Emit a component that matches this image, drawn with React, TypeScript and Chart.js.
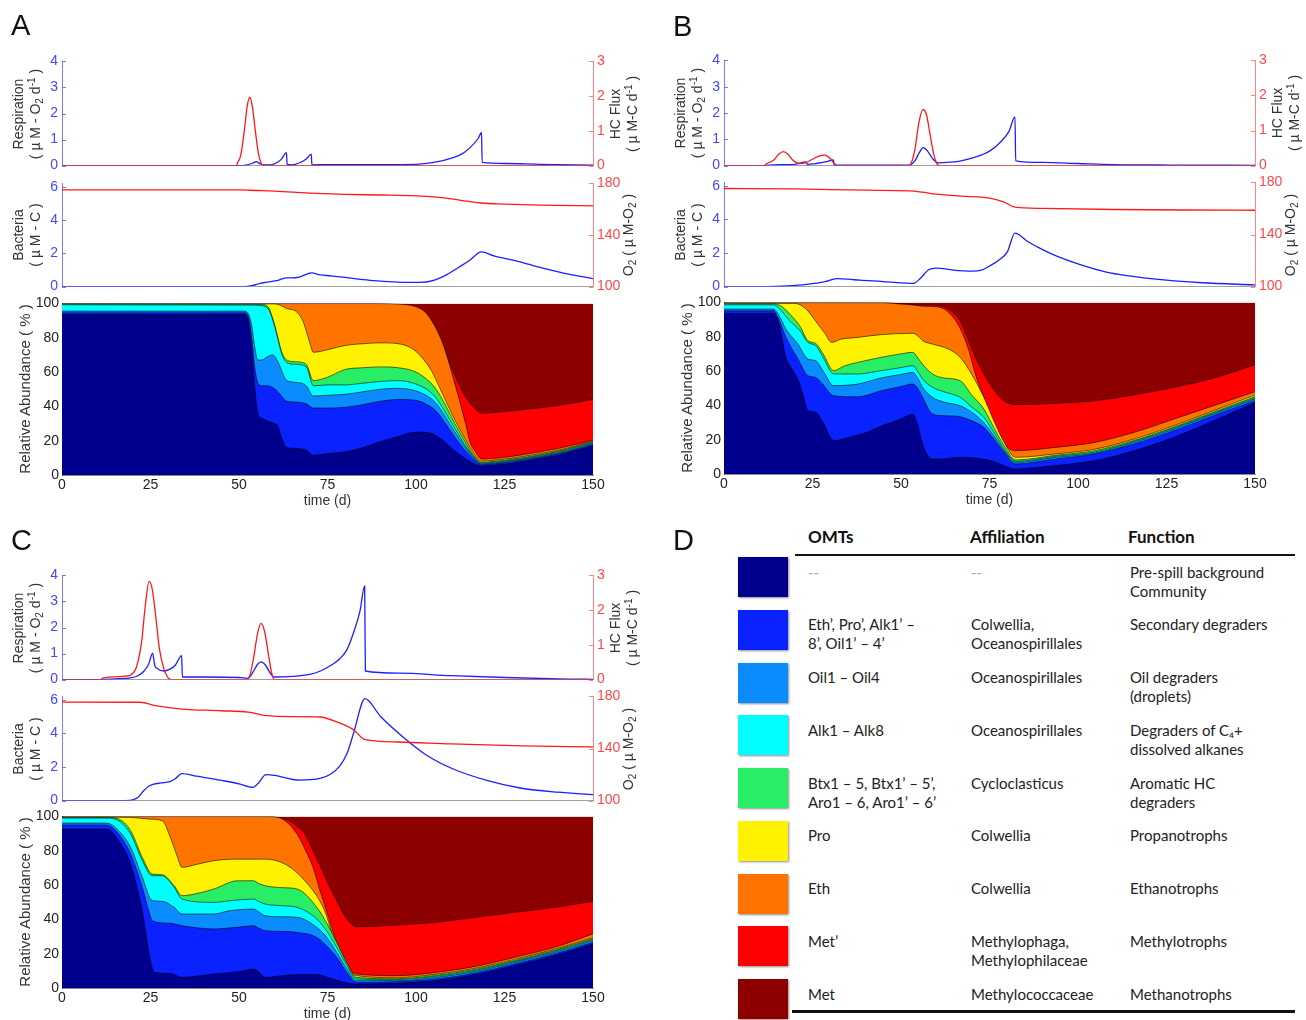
import React, { useEffect, useRef } from "react";
import { Chart, registerables } from "chart.js";
Chart.register(...registerables);

type Pts = [number, number][];

// ---------------- Panel A ----------------
const A_hcFlux: Pts = [[0,0],[49.3,0],[49.6,0.08],[50.5,0.3],[51.5,1.0],[52.3,1.7],[53,1.96],[53.7,1.75],[54.5,1.1],[55.4,0.4],[56.2,0.08],[57,0],[150,0]];
const A_resp: Pts = [[0,0],[50,0],[52,0.02],[54,0.1],[54.8,0.15],[56,0.07],[57,0.03],[59,0.03],[60.5,0.1],[62,0.25],[63.4,0.5],[63.6,0.05],[65,0.03],[67,0.1],[69,0.25],[70.4,0.44],[70.6,0.03],[75,0.04],[90,0.04],[100,0.05],[105,0.12],[110.5,0.31],[113,0.45],[115.2,0.68],[117.6,1.05],[118.5,1.27],[118.7,0.12],[125,0.08],[135,0.05],[150,0.02]];
const A_bacteria: Pts = [[0,0],[51.5,0],[54,0.08],[56,0.2],[58,0.27],[61,0.38],[63.5,0.53],[65,0.52],[67,0.57],[70.5,0.82],[73,0.7],[76,0.65],[80,0.55],[87,0.38],[95,0.27],[101,0.25],[105,0.38],[108.7,0.72],[112,1.15],[115,1.55],[118.5,2.09],[122,1.85],[129.4,1.49],[135,1.15],[142,0.8],[150,0.48]];
const A_o2: Pts = [[0,175],[50,175],[55,174.5],[60,174],[70,172.5],[80,171.5],[90,171],[100,170.3],[105,169.5],[110,168],[115,166],[118.5,164.8],[125,164],[135,163.2],[150,162.6]];
const A_layers: Pts[] = [
  [[0,93.5],[51.5,93.5],[52.5,91],[53.5,75],[54.5,50],[55.5,35],[56.5,33],[58,31.5],[60,30],[61,28.5],[62,22],[63.5,16],[66,15.5],[69,14.5],[71,11.5],[75,12.5],[80,13.5],[85,16],[90,19.5],[95,22.5],[100,25],[104,24.5],[106,22.5],[108,19.5],[111,14],[114,9.5],[116,7],[118.5,5.2],[120,5.4],[125,6.3],[130,7.8],[140,11.5],[150,17]],
  [[0,94.5],[51.5,94.5],[52.5,93],[53.5,82],[54.5,62],[55.5,53],[56.5,52],[58,52],[59.5,51],[61,48.5],[62,46],[63.5,43],[66,42.5],[69,41.5],[71,39],[75,39],[80,39.5],[85,41],[90,43],[95,44],[100,43.5],[104,40],[106,36.5],[108,31],[111,22],[114,14],[116,9.8],[118.5,6],[120,6.2],[125,7.1],[130,8.6],[140,12.2],[150,17.8]],
  [[0,95.5],[51.5,95.5],[52.5,94.5],[53.5,88],[54.5,74],[55.3,67],[56.5,67],[58,69],[59.5,70],[61,66],[62,61],[63.5,55],[66,54],[69,52],[71,46],[75,46.5],[80,47],[85,48.5],[90,50],[95,50.5],[100,49],[104,45],[106,41],[108,35],[111,25],[114,16],[116,11],[118.5,6.5],[120,6.7],[125,7.7],[130,9.2],[140,12.8],[150,18.4]],
  [[0,99.2],[52,99],[57,98.5],[58.5,96],[60,87],[61,79],[62,71],[63.5,65.5],[66,64.5],[69,63],[71,52],[75,52.5],[80,52.5],[85,53.5],[90,54.5],[95,55],[100,53],[104,48.5],[106,44],[108,37.5],[111,27],[114,17],[116,11.5],[118.5,6.9],[120,7.1],[125,8.1],[130,9.6],[140,13.3],[150,18.9]],
  [[0,99.6],[52,99.5],[57,99.3],[58.5,97],[60,88],[61,80],[62,72],[63.5,67],[66,66],[69,64.5],[71,55],[75,57],[80,61.5],[85,62.5],[90,63],[95,62.5],[100,60],[104,54],[106,49],[108,42],[111,30],[114,19],[116,12.3],[118.5,7.3],[120,7.5],[125,8.6],[130,10.1],[140,13.8],[150,19.3]],
  [[0,99.8],[60,99.7],[61,99.4],[62,98.6],[63.5,97],[66,95.5],[68,90],[69,84],[70,77],[71,71.5],[75,73],[80,75.5],[85,76.5],[90,77],[95,76.5],[100,72],[104,62],[106,54],[108,45],[111,32],[114,20.5],[116,13.5],[118.5,8],[120,8.2],[125,9.2],[130,10.7],[140,14.3],[150,19.7]],
  [[0,99.9],[90,99.9],[95,99.6],[100,98],[103,94],[106,84],[108,74],[111,53],[114,30],[115.3,19],[117,13],[118.5,9.3],[120,9.4],[125,10.3],[130,11.8],[140,15.4],[150,20.3]],
  [[0,100],[88,99.9],[95,99],[100,96.5],[103,92],[106,82],[108,73],[111,58],[113.5,47],[115.3,41.8],[117,38],[118.6,36],[120,36.2],[125,37],[130,38],[140,40.5],[150,44]],
  [[0,100],[150,100]],
];

// ---------------- Panel B ----------------
const B_hcFlux: Pts = [[0,0],[11.5,0],[12,0.05],[14,0.15],[15.5,0.33],[16.8,0.4],[18,0.33],[19.5,0.15],[21.3,0.06],[23,0.08],[25,0.18],[27,0.28],[28.5,0.3],[30,0.2],[31,0.08],[32,0],[52.3,0],[53,0.1],[54,0.5],[55,1.2],[56.2,1.6],[57.2,1.45],[58.2,0.9],[59.3,0.3],[60.3,0.03],[61,0],[150,0]];
const B_resp: Pts = [[0,0],[11.5,0],[14,0.03],[20,0.05],[23.2,0.14],[23.5,0.05],[26,0.08],[29,0.15],[30.9,0.22],[31.1,0.02],[52.3,0.02],[54,0.2],[55.2,0.5],[56.3,0.68],[57.5,0.55],[59,0.25],[60.5,0.1],[64,0.13],[67,0.18],[70,0.28],[73,0.42],[75,0.55],[78,0.88],[80.5,1.3],[82.2,1.85],[82.4,0.18],[90,0.12],[100,0.08],[110,0.04],[126,0.02],[150,0.01]];
const B_bacteria: Pts = [[0,0],[12,0],[18,0.04],[23.4,0.13],[28.5,0.29],[31.8,0.47],[35,0.44],[38.4,0.38],[45,0.3],[50,0.22],[53.5,0.19],[55.5,0.5],[57.8,1.0],[60,1.1],[64.8,0.98],[70,0.92],[73,1.0],[75.1,1.24],[77.5,1.55],[80,2.05],[82.2,3.18],[86,2.65],[90,2.2],[94,1.81],[100,1.35],[108,0.86],[115,0.62],[122,0.44],[135,0.23],[150,0.1]];
const B_o2: Pts = [[0,175.3],[20,175],[40,174],[52.5,173.5],[56,172.5],[60,171],[67,169.5],[75,168],[79,165],[82.2,161],[90,160],[110,159.2],[130,158.8],[150,158.6]];
const B_layers: Pts[] = [
  [[0,93.6],[14,93.6],[15.5,88],[17.5,68],[19,62],[20.9,55],[22.5,45],[23.7,37],[25.9,36],[28,30],[31,19.4],[35.4,21.4],[40,24],[44.4,28],[50,32],[53.3,35],[54.5,30],[56.1,17.5],[57.5,11],[58.9,8.7],[62,8.8],[66.7,9.7],[70,9.5],[73.4,8.7],[76,7.5],[79,5],[82.4,2.9],[88,3.8],[93.6,4.9],[104.7,7.8],[115.9,13.6],[127.1,21.4],[138.3,31],[150,41.7]],
  [[0,95.1],[14,95.1],[15.3,91],[17.5,79.6],[20.9,67],[23.7,57.3],[25.9,56.3],[28,52],[31,45.6],[37.7,45],[44.4,48.5],[50,51],[53.3,52.4],[55,49],[56.1,44.7],[58.9,35],[62,34],[66.7,33.4],[70,31],[73.4,27.2],[76,21],[79,13],[82.4,5.8],[93.6,8.7],[104.7,11.7],[115.9,17.5],[127.1,25.2],[138.3,34],[150,42.7]],
  [[0,96.1],[14,96.1],[15.3,93.2],[17.5,84.5],[20.9,75.7],[23.7,67],[25.9,66],[28,60],[31,51.5],[37.7,52.4],[44.4,56],[50,58],[53.3,59.2],[55,55],[56.1,50.5],[58.9,44.7],[62,42],[66.7,39.8],[70,36],[73.4,30],[76,23],[79,14],[82.4,6.8],[93.6,9.7],[104.7,12.2],[115.9,18.4],[127.1,26.2],[138.3,35],[150,43.7]],
  [[0,98.6],[14,98.6],[15.3,97],[18.7,89],[21.5,83.5],[23.7,76.7],[25.9,74.8],[28,68],[31,58.3],[37.7,58.3],[44.4,60.2],[50,62],[53.3,63.1],[55,59],[56.1,55.3],[58.9,50.5],[62,48],[66.7,44.7],[70,39],[73.4,33],[76,25],[79,15],[82.4,7.4],[93.6,10.3],[104.7,12.8],[115.9,19],[127.1,26.8],[138.3,35.5],[150,44.3]],
  [[0,99.2],[14,99.2],[16,98],[18.7,93],[21.5,86],[23.7,77.7],[25.9,76.1],[28,70],[31,60.2],[34,63],[37.7,65],[44.4,68],[50,70],[53.3,70.9],[55,67],[56.1,64],[58.9,58.3],[62,56],[66.7,54.4],[70,46],[73.4,37.9],[76,28],[79,17],[82.4,8.2],[93.6,10.9],[104.7,13.6],[115.9,19.6],[127.1,27.4],[138.3,36.1],[150,45]],
  [[0,99.5],[20,99.4],[22,98],[23.7,95],[26.5,87.4],[28.5,82],[30.4,76.7],[33,78.5],[37.7,79.6],[44.4,81.2],[53.3,82],[55,80],[56.1,77.7],[58.9,75.7],[63.4,72.8],[66.7,68],[70,58],[73.4,44.7],[76,32],[79,19],[82.4,9.7],[93.6,11.7],[104.7,14.4],[115.9,20.4],[127.1,28.2],[138.3,36.9],[150,46]],
  [[0,99.9],[45,99.8],[50,99],[53.3,98.5],[56,97.8],[60,97.5],[63,95],[66.7,85],[69,73],[71.2,57],[73.5,44],[75.7,31],[78,22],[80.1,15.5],[82.4,13.6],[93.6,15.5],[104.7,18.4],[115.9,24.3],[127.1,32],[138.3,39.8],[150,48]],
  [[0,100],[45,100],[50,99.2],[55.6,98.5],[60,98.3],[62,97.5],[64.5,94.5],[67,88],[69,78],[71.2,67],[73.4,58.3],[75.7,50.5],[77.9,44.7],[80,41.5],[82.4,40.4],[93.6,41.2],[104.7,42.7],[115.9,46.2],[127.1,50.5],[138.3,55.9],[150,63.7]],
  [[0,100],[150,100]],
];

// ---------------- Panel C ----------------
const C_hcFlux: Pts = [[0,0],[11,0],[11.5,0.04],[15,0.08],[18,0.1],[19.5,0.14],[21,0.35],[22.5,1.1],[23.5,2.1],[24.6,2.83],[25.5,2.6],[26.5,1.8],[27.5,0.9],[28.8,0.3],[30,0.05],[30.8,0],[52.3,0],[53,0.1],[54,0.55],[55.2,1.3],[56.2,1.62],[57.2,1.4],[58.2,0.8],[59.2,0.2],[60,0],[150,0]];
const C_resp: Pts = [[0,0],[11,0],[15,0.03],[19,0.06],[21,0.12],[23,0.3],[24.5,0.6],[25.6,1.02],[26.2,0.55],[27,0.42],[28.7,0.33],[30.5,0.4],[32,0.55],[33.8,0.92],[34,0.1],[40,0.1],[50,0.08],[52.5,0.05],[54,0.3],[55.2,0.58],[56.3,0.68],[57.5,0.55],[58.8,0.25],[59.8,0.1],[65,0.12],[70,0.2],[73,0.33],[76,0.55],[78.5,0.8],[80.5,1.15],[82.3,1.78],[84.2,2.65],[85.5,3.6],[85.7,0.33],[95,0.25],[110,0.15],[125,0.08],[143,0.02],[150,0.01]];
const C_bacteria: Pts = [[0,0],[18,0],[20,0.05],[21.5,0.2],[23,0.57],[24.5,0.85],[25.9,0.98],[28,1.05],[30.5,1.13],[32,1.3],[33.8,1.6],[38,1.45],[45,1.2],[50,1.0],[53.9,0.79],[55.5,1.05],[57.6,1.54],[60,1.5],[67,1.22],[72.9,1.32],[75.7,1.55],[78.5,2.07],[80.5,2.8],[82.3,3.96],[85.6,6.07],[90,5.0],[96.4,3.77],[103,2.7],[110.5,1.88],[120,1.2],[129.4,0.75],[140,0.5],[150,0.36]];
const C_o2: Pts = [[0,175.6],[22,175.5],[26.8,172.7],[33.8,170.3],[45,169],[52.6,167.9],[57.8,165.2],[65,164.5],[72.9,164.2],[78,160],[82.3,154.5],[85.6,146.8],[95,145],[110,143.5],[130,142],[150,141.2]];
const C_layers: Pts[] = [
  [[0,92.6],[12.6,92.6],[16,85.8],[19.4,72.2],[21,60],[22.7,45],[24,28],[25,16],[26.1,9.1],[30.6,8.5],[33.9,6.2],[42.9,8.2],[50,9.5],[54.1,11],[55.2,10],[57.4,6.2],[62,7.2],[66.4,7.8],[72,7.8],[76,5.5],[79.8,3.3],[83.2,2.3],[94.4,2.7],[105.6,4.3],[116.8,7.8],[127.9,13],[139.1,18.8],[150,25.6]],
  [[0,95],[12.6,95],[16,89.7],[19.4,78],[22.7,58.6],[24.5,45],[25.5,39.2],[30.6,37.7],[33.9,36.3],[42.9,34.4],[50,35.5],[54.1,36.3],[55.5,35],[57.4,33.4],[62,33],[66.4,32.4],[72,29.5],[75,24],[77.6,17.9],[80.5,9],[83.2,3.3],[94.4,3.7],[105.6,5.2],[116.8,8.7],[127.9,14],[139.1,19.8],[150,26.6]],
  [[0,96.1],[12.6,96.1],[16,91.7],[19.4,81.9],[22.7,64.5],[25.5,50.9],[28.3,50.5],[31.7,47],[33.9,43.1],[42.9,43.1],[47.3,45],[54.1,46],[55.5,44.5],[57.4,42.1],[62,41.5],[66.4,41.2],[72,35.3],[75,29],[77.6,20.8],[80.5,11],[83.2,4.3],[94.4,4.3],[105.6,6.2],[116.8,9.7],[127.9,15],[139.1,20.8],[150,27.6]],
  [[0,99],[12.6,99],[16,97.5],[19.4,89.7],[22.7,74.2],[25.5,65.4],[28.3,65.4],[31.7,58.6],[33.9,51.8],[42.9,49.9],[48,51],[54.1,51.8],[55.5,50.5],[57.4,48.9],[62,48],[66.4,47],[72,40.2],[75,32.5],[77.6,23.7],[80.5,13],[83.2,5.2],[94.4,4.9],[105.6,6.8],[116.8,10.3],[127.9,15.5],[139.1,21.4],[150,28.2]],
  [[0,99.4],[12.6,99.4],[16,98.5],[19.4,91.7],[22.7,76.1],[25.5,66.4],[28.3,66],[31.7,59.6],[33.9,53.8],[38,55],[42.9,57.7],[49.6,62.5],[54.1,62.5],[55.5,61],[57.4,59.6],[62,58.5],[66.4,57.7],[72,47],[75,37],[77.6,26.6],[80.5,14.5],[83.2,6.2],[94.4,5.4],[105.6,7.4],[116.8,10.9],[127.9,16.1],[139.1,21.9],[150,28.7]],
  [[0,99.7],[19.4,99.4],[25,98.4],[28.3,97.5],[30.6,87.8],[32.5,77],[33.9,70.3],[38,72],[42.9,74.2],[49.6,75.1],[57.4,75.1],[63,72.2],[68.6,62.5],[74.2,45],[77,27],[79.8,15],[83.2,7.2],[94.4,6],[105.6,8],[116.8,11.5],[127.9,16.7],[139.1,22.5],[150,29.3]],
  [[0,99.9],[58,99.9],[59.7,99.8],[63,97.5],[66.4,89.7],[68.6,81],[70.9,70.3],[73,56],[75.3,41.2],[77,30],[78.7,21],[80.9,12],[83.2,8.2],[94.4,7.2],[105.6,9.1],[116.8,12.6],[127.9,17.9],[139.1,23.7],[150,31.5]],
  [[0,100],[58.5,100],[61,99.5],[64.1,97.5],[66.5,94],[68.6,89.7],[70.9,80],[73.1,70.3],[75.3,60],[77.6,50.9],[79.3,44],[80.9,39.2],[83.2,35.7],[94.4,36.7],[105.6,38.3],[116.8,41.2],[127.9,44.1],[139.1,47],[150,50.5]],
  [[0,100],[150,100]],
];

// ---------------- Legend table (D) ----------------
const layerColors = ["#00008c", "#0a22ff", "#0a8cff", "#00ffff", "#28ee66", "#fff200", "#ff7400", "#ff0000", "#8c0000"];
const omtCol: string[][] = [["--"], ["Eth’, Pro’, Alk1’ –", "8’, Oil1’ – 4’"], ["Oil1 – Oil4"], ["Alk1 – Alk8"], ["Btx1 – 5, Btx1’ – 5’,", "Aro1 – 6, Aro1’ – 6’"], ["Pro"], ["Eth"], ["Met’"], ["Met"]];
const affCol: string[][] = [["--"], ["Colwellia,", "Oceanospirillales"], ["Oceanospirillales"], ["Oceanospirillales"], ["Cycloclasticus"], ["Colwellia"], ["Colwellia"], ["Methylophaga,", "Methylophilaceae"], ["Methylococcaceae"]];
const funcCol: string[][] = [["Pre-spill background", "Community"], ["Secondary degraders"], ["Oil degraders", "(droplets)"], ["Degraders of C₄+", "dissolved alkanes"], ["Aromatic HC", "degraders"], ["Propanotrophs"], ["Ethanotrophs"], ["Methylotrophs"], ["Methanotrophs"]];
const tableHeaders = ["OMTs", "Affiliation", "Function"];

// ---------------- styling ----------------
const FONT = '"Liberation Sans", Arial, Helvetica, sans-serif';
const LINE_BLUE = "rgb(30,30,255)";
const LINE_RED = "rgb(255,25,25)";
const TICK_BLUE = "rgb(70,70,255)";
const TICK_RED = "rgb(255,70,70)";
const AXIS_BLUE = "rgba(90,90,255,0.8)";
const AXIS_RED = "rgba(255,100,100,0.8)";
const PLOT_W = 531;
const AX_L = 60, AX_R = 50, PAD = 10, AB_B = 24, AB_R = 40;

const toXY = (p: Pts) => p.map(([x, y]) => ({ x, y }));

// MATLAB-style tick marks pointing into the plot area
const innerTicks = {
  id: "innerTicks",
  afterDatasetsDraw(chart: any) {
    const { ctx, chartArea } = chart;
    for (const id of ["yL", "yR"]) {
      const s = chart.scales[id];
      if (!s) continue;
      ctx.save();
      ctx.strokeStyle = id === "yL" ? AXIS_BLUE : AXIS_RED;
      ctx.lineWidth = 1;
      const x0 = id === "yL" ? chartArea.left : chartArea.right;
      const dx = id === "yL" ? 4 : -4;
      for (const t of s.ticks) {
        const y = Math.round(s.getPixelForValue(t.value)) + 0.5;
        ctx.beginPath();
        ctx.moveTo(x0, y);
        ctx.lineTo(x0 + dx, y);
        ctx.stroke();
      }
      ctx.restore();
    }
  },
};

function dualLineConfig(blue: Pts, red: Pts, lMax: number, lStep: number, rMin: number, rMax: number, rStep: number): any {
  const tickFont = { family: FONT, size: 14 };
  return {
    type: "line",
    data: {
      datasets: [
        { data: toXY(red), borderColor: LINE_RED, borderWidth: 1.3, pointRadius: 0, cubicInterpolationMode: "monotone", yAxisID: "yR" },
        { data: toXY(blue), borderColor: LINE_BLUE, borderWidth: 1.3, pointRadius: 0, cubicInterpolationMode: "monotone", yAxisID: "yL" },
      ],
    },
    plugins: [innerTicks],
    options: {
      animation: false, responsive: false, events: [],
      layout: { padding: { top: PAD, bottom: PAD, left: 0, right: 0 } },
      plugins: { legend: { display: false }, tooltip: { enabled: false } },
      scales: {
        x: { type: "linear", min: 0, max: 150, ticks: { display: false }, grid: { display: false, drawTicks: false }, border: { display: true, color: "#a0a0a0", width: 1 }, afterFit: (s: any) => { s.height = 0; } },
        yL: { type: "linear", position: "left", min: 0, max: lMax, ticks: { stepSize: lStep, includeBounds: false, color: TICK_BLUE, font: tickFont, padding: 4 }, grid: { display: false, drawTicks: false }, border: { color: AXIS_BLUE }, afterFit: (s: any) => { s.width = AX_L; } },
        yR: { type: "linear", position: "right", min: rMin, max: rMax, ticks: { stepSize: rStep, includeBounds: false, color: TICK_RED, font: tickFont, padding: 4 }, grid: { display: false, drawTicks: false }, border: { color: AXIS_RED }, afterFit: (s: any) => { s.width = AX_R; } },
      },
    },
  };
}

function abundanceConfig(layers: Pts[]): any {
  const tickFont = { family: FONT, size: 14 };
  const last = layers.length - 1;
  return {
    type: "line",
    data: {
      datasets: layers.map((pts, i) => ({
        data: toXY(pts), fill: "origin", backgroundColor: layerColors[i],
        borderColor: i === last ? "rgba(0,0,0,0)" : "rgba(0,0,0,0.7)", borderWidth: i === last ? 0 : 0.8,
        pointRadius: 0, cubicInterpolationMode: "monotone",
      })),
    },
    options: {
      animation: false, responsive: false, events: [],
      layout: { padding: { top: PAD, bottom: 0, left: 0, right: AB_R } },
      plugins: { legend: { display: false }, tooltip: { enabled: false } },
      scales: {
        x: { type: "linear", min: 0, max: 150, ticks: { stepSize: 25, color: "#222", font: tickFont, padding: 2, maxRotation: 0 }, grid: { display: false, drawTicks: false }, border: { color: "#888" }, afterFit: (s: any) => { s.height = AB_B; } },
        y: { type: "linear", min: 0, max: 100, ticks: { stepSize: 20, color: "#222", font: tickFont, padding: 3 }, grid: { display: false, drawTicks: false }, border: { color: "#555" }, afterFit: (s: any) => { s.width = AX_L; } },
      },
    },
  };
}

function ChartBox({ left, top, width, height, config }: { left: number; top: number; width: number; height: number; config: () => any }) {
  const ref = useRef<HTMLCanvasElement | null>(null);
  useEffect(() => {
    const c = new Chart(ref.current as HTMLCanvasElement, config());
    return () => c.destroy();
  }, []);
  return <canvas ref={ref} width={width} height={height} style={{ position: "absolute", left, top, width, height }} />;
}

function VTitle({ cx, cy, children, size = 14 }: { cx: number; cy: number; children: React.ReactNode; size?: number }) {
  return (
    <div style={{ position: "absolute", left: cx, top: cy, transform: "translate(-50%,-50%) rotate(-90deg)", whiteSpace: "nowrap", textAlign: "center", fontSize: size, lineHeight: "17px", color: "#333", fontFamily: FONT }}>
      {children}
    </div>
  );
}

const Sub = ({ c }: { c: string }) => <span style={{ fontSize: "0.72em", verticalAlign: "-0.3em", lineHeight: 0 }}>{c}</span>;
const Sup = ({ c }: { c: string }) => <span style={{ fontSize: "0.72em", verticalAlign: "0.45em", lineHeight: 0 }}>{c}</span>;

interface PanelSpec { ox: number; top: [number, number]; mid: [number, number]; ab: [number, number]; resp: Pts; hc: Pts; bact: Pts; o2: Pts; layers: Pts[] }

function Panel({ p }: { p: PanelSpec }) {
  const { ox } = p;
  return (
    <>
      <ChartBox left={ox - AX_L} top={p.top[0] - PAD} width={PLOT_W + AX_L + AX_R} height={p.top[1] - p.top[0] + 2 * PAD} config={() => dualLineConfig(p.resp, p.hc, 4, 1, 0, 3, 1)} />
      <ChartBox left={ox - AX_L} top={p.mid[0] - PAD} width={PLOT_W + AX_L + AX_R} height={p.mid[1] - p.mid[0] + 2 * PAD} config={() => dualLineConfig(p.bact, p.o2, 6.2, 2, 100, 180, 40)} />
      <ChartBox left={ox - AX_L} top={p.ab[0] - PAD} width={PLOT_W + AX_L + AB_R} height={p.ab[1] - p.ab[0] + PAD + AB_B} config={() => abundanceConfig(p.layers)} />
      <VTitle cx={ox - 35.5} cy={(p.top[0] + p.top[1]) / 2}>Respiration<br />( µ M - O<Sub c="2" /> d<Sup c="-1" /> )</VTitle>
      <VTitle cx={ox + PLOT_W + 31} cy={(p.top[0] + p.top[1]) / 2}>HC Flux<br />( µ M-C d<Sup c="-1" /> )</VTitle>
      <VTitle cx={ox - 35.5} cy={(p.mid[0] + p.mid[1]) / 2}>Bacteria<br />( µ M - C )</VTitle>
      <VTitle cx={ox + PLOT_W + 35} cy={(p.mid[0] + p.mid[1]) / 2}>O<Sub c="2" /> ( µ M-O<Sub c="2" /> )</VTitle>
      <VTitle cx={ox - 38} cy={(p.ab[0] + p.ab[1]) / 2} size={15}>Relative Abundance ( % )</VTitle>
      <div style={{ position: "absolute", left: ox + PLOT_W / 2, top: p.ab[1] + 25, transform: "translate(-50%,-50%)", fontSize: 14, color: "#333", fontFamily: FONT, whiteSpace: "nowrap" }}>time (d)</div>
    </>
  );
}

const panels: PanelSpec[] = [
  { ox: 62, top: [59, 168], mid: [181, 289], ab: [302, 475], resp: A_resp, hc: A_hcFlux, bact: A_bacteria, o2: A_o2, layers: A_layers },
  { ox: 724, top: [58, 168], mid: [180, 289], ab: [301, 474], resp: B_resp, hc: B_hcFlux, bact: B_bacteria, o2: B_o2, layers: B_layers },
  { ox: 62, top: [573, 682], mid: [694, 803], ab: [815, 988], resp: C_resp, hc: C_hcFlux, bact: C_bacteria, o2: C_o2, layers: C_layers },
];
const letters: [string, number, number][] = [["A", 11, 11], ["B", 673, 12], ["C", 11, 526], ["D", 673, 526]];

const TFONT = "Lato, 'Open Sans', sans-serif";
const ROW_Y0 = 572, ROW_STEP = 52.75;

function Cell({ x, cy, lines, grey }: { x: number; cy: number; lines: string[]; grey?: boolean }) {
  return (
    <div style={{ position: "absolute", left: x, top: cy - 9.5, fontSize: 15, lineHeight: "19px", fontFamily: TFONT, color: grey ? "#aaa" : "#222", whiteSpace: "nowrap" }}>
      {lines.map((l, i) => <div key={i}>{l}</div>)}
    </div>
  );
}

export default function App() {
  return (
    <div style={{ position: "absolute", left: 0, top: 0, width: 1306, height: 1020, overflow: "hidden", background: "#fff", fontFamily: FONT }}>
      {panels.map((p, i) => <Panel key={i} p={p} />)}
      {letters.map(([t, x, y]) => (
        <div key={t} style={{ position: "absolute", left: x, top: y, fontSize: 29, lineHeight: "29px", color: "#111", fontFamily: FONT }}>{t}</div>
      ))}
      {/* Panel D table */}
      {tableHeaders.map((h, i) => (
        <div key={h} style={{ position: "absolute", left: [808, 970, 1128][i], top: 537 - 11, fontSize: 17, lineHeight: "22px", fontWeight: 700, fontFamily: TFONT, color: "#111" }}>{h}</div>
      ))}
      <div style={{ position: "absolute", left: 795, top: 554, width: 500, height: 2, background: "#111" }} />
      <div style={{ position: "absolute", left: 792, top: 1010, width: 503, height: 3, background: "#111" }} />
      {layerColors.map((c, i) => {
        const cy = ROW_Y0 + i * ROW_STEP;
        return (
          <React.Fragment key={i}>
            <div style={{ position: "absolute", left: 738, top: cy - 15, width: 50, height: 40, background: c, boxShadow: "1px 1px 2px rgba(0,0,0,0.45)" }} />
            <Cell x={808} cy={cy} lines={omtCol[i]} grey={i === 0} />
            <Cell x={971} cy={cy} lines={affCol[i]} grey={i === 0} />
            <Cell x={1130} cy={cy} lines={funcCol[i]} />
          </React.Fragment>
        );
      })}
    </div>
  );
}
